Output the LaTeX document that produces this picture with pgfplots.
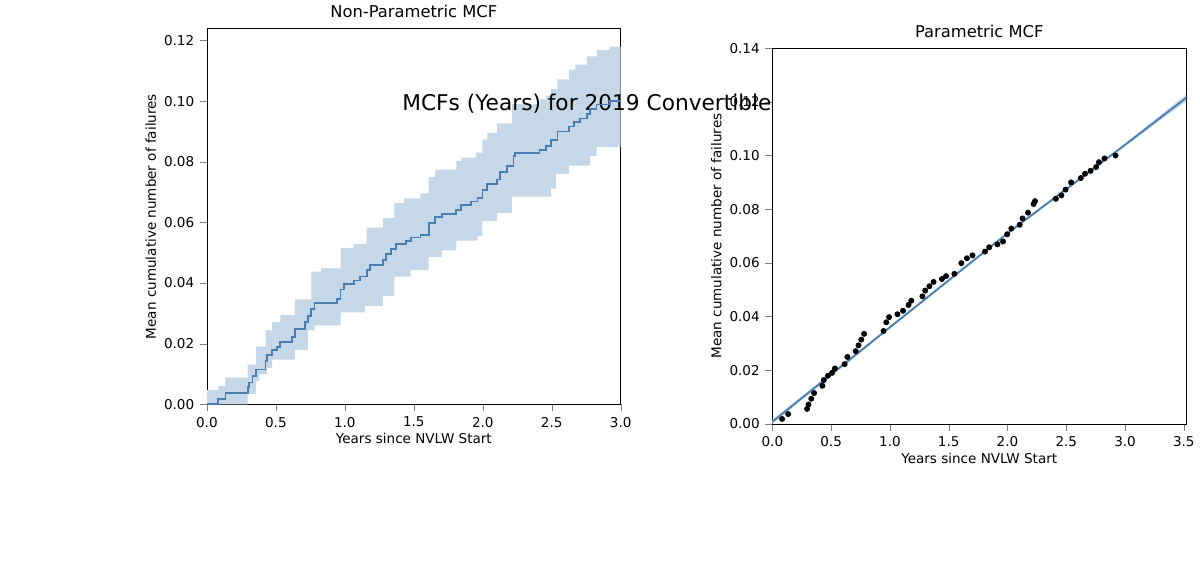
\documentclass[border=0pt]{standalone}
\usepackage{pgfplots}
\pgfplotsset{compat=1.18}
\usepackage{pgfplotstable}
\usepgfplotslibrary{fillbetween}
\usepackage{fontspec}
\setmainfont{DejaVu Sans}
\definecolor{mblue}{HTML}{4A7EB0}
\definecolor{band}{HTML}{C6D7E7}
\pgfplotstableread{
zx zy
0 1150
35 1135
57 1118
125 1100
130 1085
140 1065
150 1045
180 1020
185 1000
200 985
215 975
225 960
260 945
270 920
300 900
310 880
320 860
330 840
400 830
410 800
420 782
450 772
470 760
490 740
500 725
540 710
550 690
565 675
580 660
610 650
625 640
655 632
680 595
700 578
720 568
765 555
780 540
810 530
830 520
845 495
860 475
890 462
900 440
920 420
940 390
945 380
1020 372
1040 360
1055 340
1075 315
1110 300
1125 285
1145 275
1165 262
1175 245
1195 232
1235 222
1270 222
}\meantab
\pgfplotstableread{
zx zy
0 1108
35 1095
57 1070
125 1030
150 975
180 925
200 900
225 878
270 830
320 745
350 735
410 672
450 660
490 610
540 580
575 535
605 520
655 505
680 455
700 432
765 405
780 395
825 380
845 340
860 320
890 290
935 230
1020 215
1040 205
1055 185
1075 155
1110 125
1130 110
1165 85
1195 65
1235 55
1270 55
}\uptab
\pgfplotstableread{
zx zy
0 1152
125 1120
150 1080
160 1060
185 1040
200 1015
270 985
310 925
330 910
410 870
485 850
540 820
575 760
625 740
680 700
720 680
765 650
830 635
845 590
890 565
935 515
1055 490
1070 445
1110 420
1175 390
1195 362
1270 362
}\lowtab
\begin{document}
\begin{tikzpicture}[x=0.6pt,y=0.6pt]
\path (0,0) rectangle (1200,500);
\node[font=\fontsize{13.3}{15}\selectfont] at (600,481) {MCFs (Years) for 2019 Convertible};
\pgfplotsset{every axis/.style={scale only axis, width=253.8pt, height=230.4pt, anchor=south west,
  tick label style={font=\fontsize{8.3}{10}\selectfont}, label style={font=\fontsize{8.3}{10}\selectfont},
  title style={font=\fontsize{10}{12}\selectfont, yshift=-3pt}, tick align=outside, tick pos=left,
  /pgf/number format/assume math mode=true, /pgf/number format/fixed, /pgf/number format/precision=2,
  /pgf/number format/fixed zerofill, xlabel={Years since NVLW Start}, ylabel={Mean cumulative number of failures},
  xlabel style={yshift=3pt}, ylabel style={yshift=-2pt}}}
\begin{axis}[at={(150,56)}, xmin=0, xmax=3.0, ymin=0, ymax=0.1239, xtick={0,0.5,...,3.0},
  ytick={0,0.02,...,0.121}, title={Non-Parametric MCF}, xticklabel style={/pgf/number format/precision=1},
  yticklabel style={/pgf/number format/precision=2}]
\addplot[const plot, draw=none, name path=U] table[x expr=\thisrow{zx}/423, y expr={(384-\thisrow{zy}/3)/3100}] {\uptab};
\addplot[const plot, draw=none, name path=L] table[x expr=\thisrow{zx}/423, y expr={(384-\thisrow{zy}/3)/3100}] {\lowtab};
\addplot[band, draw=none] fill between[of=U and L];
\addplot[const plot, mblue, line width=1.1pt] table[x expr=\thisrow{zx}/423, y expr={max((384-\thisrow{zy}/3)/3100,0)}] {\meantab};
\end{axis}
\begin{axis}[at={(657,56)}, xmin=0, xmax=3.52, ymin=0, ymax=0.14, xtick={0,0.5,...,3.5},
  ytick={0,0.02,...,0.141}, title={Parametric MCF}, xticklabel style={/pgf/number format/precision=1}]
\addplot[name path=PU, draw=none] coordinates {(0,0.0015)(1,0.0365)(2,0.0715)(3,0.1045)(3.52,0.1228)};
\addplot[name path=PL, draw=none] coordinates {(0,0.0)(1,0.0355)(2,0.0705)(3,0.1035)(3.52,0.1202)};
\addplot[band] fill between[of=PU and PL];
\addplot[mblue, line width=1.1pt] coordinates {(0,0.0008)(1,0.036)(2,0.071)(3,0.104)(3.52,0.1215)};
\addplot[only marks, mark=*, mark size=1.6pt, black, restrict x to domain=0.05:2.95] table[x expr=\thisrow{zx}/423, y expr={(384-\thisrow{zy}/3)/3100}] {\meantab};
\end{axis}
\end{tikzpicture}
\end{document}
